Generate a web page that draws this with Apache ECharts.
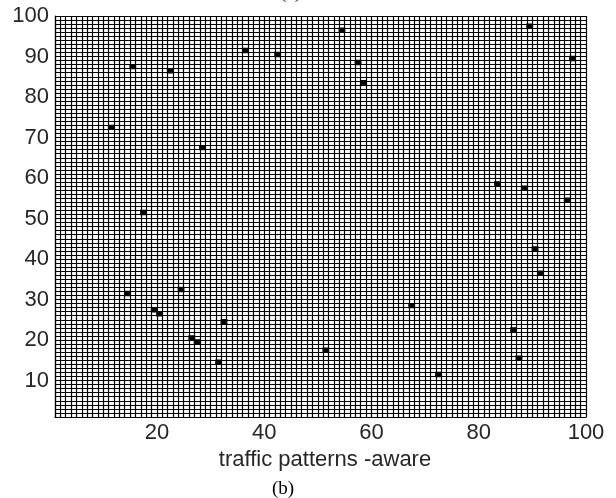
<!DOCTYPE html>
<html><head><meta charset="utf-8">
<script src="https://cdn.jsdelivr.net/npm/echarts@6/dist/echarts.min.js"></script>
<style>html,body{margin:0;padding:0;background:#fff}#c{width:616px;height:498px}</style>
</head><body><div id="c"></div>
<script>
// filled cells (lower-left corner of each cell, pcolor-style grid 1..100)
const cellX = [54, 89, 97, 57, 58, 83, 88, 96, 90, 91, 67, 86, 51, 87, 72, 36, 42, 15, 22, 11, 28, 17, 14, 24, 19, 20, 32, 26, 27, 31];
const cellY = [96, 97, 89, 88, 83, 58, 57, 54, 42, 36, 28, 22, 17, 15, 11, 91, 90, 87, 86, 72, 67, 51, 31, 32, 27, 26, 24, 20, 19, 14];
const xTickLabels = [20, 40, 60, 80, 100];
const yTickLabels = [10, 20, 30, 40, 50, 60, 70, 80, 90, 100];
const xTitle = 'traffic patterns -aware';
const panelLabel = '(b)';
const topLabel = '(a)';

const cells = cellX.map((x, i) => [x, cellY[i]]);
const sans = 'Liberation Sans, Arial, sans-serif';
const serif = 'Liberation Serif, Times New Roman, serif';

const chart = echarts.init(document.getElementById('c'));
chart.setOption({
  backgroundColor: '#fff',
  animation: false,
  grid: { left: 55, right: 30, top: 16, bottom: 81, containLabel: false },
  xAxis: {
    type: 'value', min: 1, max: 100, interval: 1,
    axisLine: { show: true, lineStyle: { color: '#000', width: 1.2 } },
    axisTick: { show: false },
    splitLine: { show: true, lineStyle: { color: '#000', width: 1.2 } },
    axisLabel: {
      margin: 5, fontSize: 22, color: '#262626', fontFamily: sans,
      formatter: v => xTickLabels.includes(v) ? String(v) : ''
    },
    name: xTitle, nameLocation: 'middle', nameGap: 30,
    nameTextStyle: { fontSize: 22, color: '#262626', fontFamily: sans, padding: [0, 0, 0, 9] }
  },
  yAxis: {
    type: 'value', min: 1, max: 100, interval: 1,
    axisLine: { show: true, lineStyle: { color: '#000', width: 1.2 } },
    axisTick: { show: false },
    splitLine: { show: true, lineStyle: { color: '#000', width: 1.2 } },
    axisLabel: {
      margin: 6, fontSize: 22, color: '#262626', fontFamily: sans,
      formatter: v => yTickLabels.includes(v) ? String(v) : ''
    }
  },
  graphic: [
    { type: 'text', left: 272, top: 480, style: { text: panelLabel, font: '19px ' + serif, fill: '#000' } },
    { type: 'text', left: 280, top: -16, style: { text: topLabel, font: '19px ' + serif, fill: '#000' } }
  ],
  series: [{
    type: 'custom',
    data: cells,
    renderItem: function (params, api) {
      const x = api.value(0), y = api.value(1);
      const p0 = api.coord([x, y + 1]);
      const p1 = api.coord([x + 1, y]);
      return {
        type: 'rect',
        shape: { x: p0[0], y: p0[1], width: p1[0] - p0[0], height: p1[1] - p0[1] },
        style: { fill: '#000', stroke: '#000', lineWidth: 1.4 }
      };
    }
  }]
});
</script></body></html>
